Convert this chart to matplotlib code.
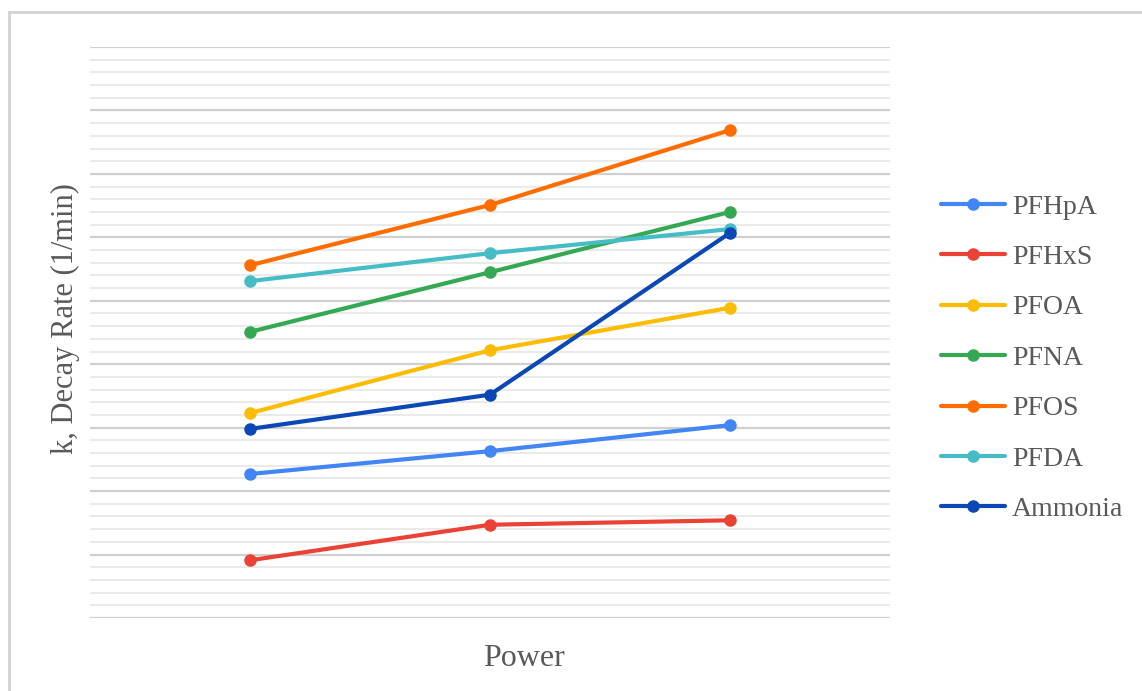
import matplotlib
matplotlib.use("Agg")
import matplotlib.pyplot as plt
from matplotlib.ticker import MultipleLocator
from matplotlib.lines import Line2D

# categories along x (the chart shows no tick labels)
power_levels = ["Low", "Medium", "High"]

# decay rates (arbitrary units, gridline = 1)
pfhpa = [2.27, 2.63, 3.04]
pfhxs = [0.91, 1.47, 1.54]
pfoa = [3.23, 4.22, 4.89]
pfna = [4.51, 5.45, 6.40]
pfos = [5.56, 6.51, 7.69]
pfda = [5.31, 5.75, 6.13]
ammonia = [2.98, 3.52, 6.07]

series_names = ["PFHpA", "PFHxS", "PFOA", "PFNA", "PFOS", "PFDA", "Ammonia"]
series_values = [pfhpa, pfhxs, pfoa, pfna, pfos, pfda, ammonia]
series_colors = ["#4285F4", "#EA4335", "#FBBC04", "#34A853", "#FF6D01", "#46BDC6", "#0B47B5"]

plt.rcParams['font.family'] = ['Liberation Serif', 'DejaVu Serif']
text_col = "#595959"

fig = plt.figure(figsize=(11.42, 6.91), dpi=100)
ax = fig.add_axes([90/1142, 73/691, 800/1142, 571/691])

x = list(range(len(power_levels)))
for name, vals, col in zip(series_names, series_values, series_colors):
    ax.plot(x, vals, color=col, linewidth=3, marker='o', markersize=8,
            label=name, solid_capstyle='round', zorder=3)

ax.set_xlim(-2/3, 2 + 2/3)
ax.set_ylim(0, 9)
ax.yaxis.set_major_locator(MultipleLocator(1))
ax.yaxis.set_minor_locator(MultipleLocator(0.2))
ax.grid(which='major', axis='y', color='#d0d0d0', linewidth=1.6)
ax.grid(which='minor', axis='y', color='#e8e8e8', linewidth=1.3)
ax.set_axisbelow(True)
ax.set_xticks([])
ax.tick_params(axis='y', which='both', left=False, labelleft=False)
for s in ax.spines.values():
    s.set_visible(False)

ax.set_ylabel("k, Decay Rate (1/min)", fontsize=22, color=text_col)
ax.yaxis.set_label_coords(-0.012, 0.525)
fig.text(524/1142, 1 - 658/691, "Power", fontsize=23, color=text_col,
         ha='center', va='center')

leg = ax.legend(loc='upper left', bbox_to_anchor=(930/1142, 1 - 183/691),
                bbox_transform=fig.transFigure, frameon=False, fontsize=20,
                handlelength=2.3, handletextpad=0.25, labelspacing=0.9,
                borderaxespad=0)
for t in leg.get_texts():
    t.set_color(text_col)

# light frame around the chart (left and top edges visible)
fig.add_artist(Line2D([9/1142, 9/1142], [0, 1 - 12/691], transform=fig.transFigure,
                      color='#d3d3d3', linewidth=2))
fig.add_artist(Line2D([9/1142, 1], [1 - 12/691, 1 - 12/691], transform=fig.transFigure,
                      color='#d3d3d3', linewidth=2))

fig.savefig("out.png", dpi=100)
